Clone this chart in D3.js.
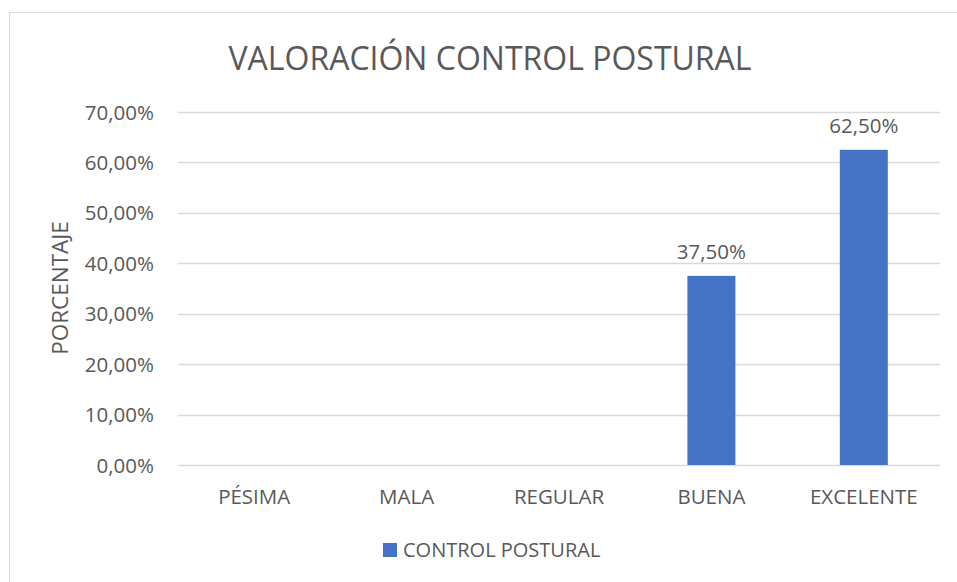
<!DOCTYPE html>
<html>
<head>
    <meta charset="utf-8">
    <script src="https://d3js.org/d3.v7.min.js"></script>
    <style>
        body { margin: 0; background: #fff; }
        text { font-family: 'Open Sans', sans-serif; fill: #595959; }
    </style>
</head>
<body>
    <div id="chart"></div>
    <script>
        // chart data
        var categories = ["PÉSIMA", "MALA", "REGULAR", "BUENA", "EXCELENTE"];
        var values = [0, 0, 0, 0.375, 0.625];
        var yTicks = [0, 0.1, 0.2, 0.3, 0.4, 0.5, 0.6, 0.7];
        var seriesName = "CONTROL POSTURAL";
        var title = "VALORACIÓN CONTROL POSTURAL";
        var yTitle = "PORCENTAJE";

        var width = 957, height = 582;
        var plotLeft = 178, plotRight = 940, plotTop = 112, plotBottom = 465;
        var barColor = "#4472C4";

        var fmt = function (v) {
            return d3.format(".2f")(v * 100).replace(".", ",") + "%";
        };

        var svg = d3.select("#chart").append("svg")
            .attr("width", width)
            .attr("height", height);

        // outer border of the chart area
        svg.append("rect")
            .attr("x", 9.5).attr("y", 12.5)
            .attr("width", 1000).attr("height", 700)
            .attr("fill", "none")
            .attr("stroke", "#d9d9d9");

        var x = d3.scaleBand().domain(categories).range([plotLeft, plotRight]).padding(0);
        var y = d3.scaleLinear().domain([0, 0.7]).range([plotBottom, plotTop]);

        // gridlines
        svg.selectAll(".grid")
            .data(yTicks)
            .enter()
            .append("line")
            .attr("x1", plotLeft).attr("x2", plotRight)
            .attr("y1", d => Math.round(y(d)) + 0.5)
            .attr("y2", d => Math.round(y(d)) + 0.5)
            .attr("stroke", "#d9d9d9")
            .attr("stroke-width", 1.3);

        // y tick labels
        svg.selectAll(".ytick")
            .data(yTicks)
            .enter()
            .append("text")
            .attr("x", 154)
            .attr("y", d => y(d) + 7.5)
            .attr("text-anchor", "end")
            .style("font-size", "20.5px")
            .text(fmt);

        // bars
        var barW = 48;
        svg.selectAll(".bar")
            .data(values)
            .enter()
            .append("rect")
            .attr("x", (d, i) => x(categories[i]) + x.bandwidth() / 2 - barW / 2)
            .attr("y", d => y(d))
            .attr("width", barW)
            .attr("height", d => y(0) - y(d))
            .attr("fill", barColor);

        // data labels (only for bars with a value)
        svg.selectAll(".dlabel")
            .data(values.map((v, i) => ({ v: v, c: categories[i] })).filter(d => d.v > 0))
            .enter()
            .append("text")
            .attr("x", d => x(d.c) + x.bandwidth() / 2)
            .attr("y", d => y(d.v) - 17)
            .attr("text-anchor", "middle")
            .style("font-size", "20.5px")
            .text(d => fmt(d.v));

        // x category labels
        svg.selectAll(".xtick")
            .data(categories)
            .enter()
            .append("text")
            .attr("x", d => x(d) + x.bandwidth() / 2)
            .attr("y", 504)
            .attr("text-anchor", "middle")
            .style("font-size", "20.5px")
            .text(d => d);

        // title
        svg.append("text")
            .attr("x", 490)
            .attr("y", 70)
            .attr("text-anchor", "middle")
            .style("font-size", "32px")
            .text(title);

        // y axis title
        svg.append("text")
            .attr("transform", "translate(68,288) rotate(-90)")
            .attr("text-anchor", "middle")
            .style("font-size", "22.5px")
            .text(yTitle);

        // legend
        svg.append("rect")
            .attr("x", 383).attr("y", 543)
            .attr("width", 14).attr("height", 14)
            .attr("fill", barColor);
        svg.append("text")
            .attr("x", 403)
            .attr("y", 557)
            .style("font-size", "20px")
            .text(seriesName);
    </script>
</body>
</html>
